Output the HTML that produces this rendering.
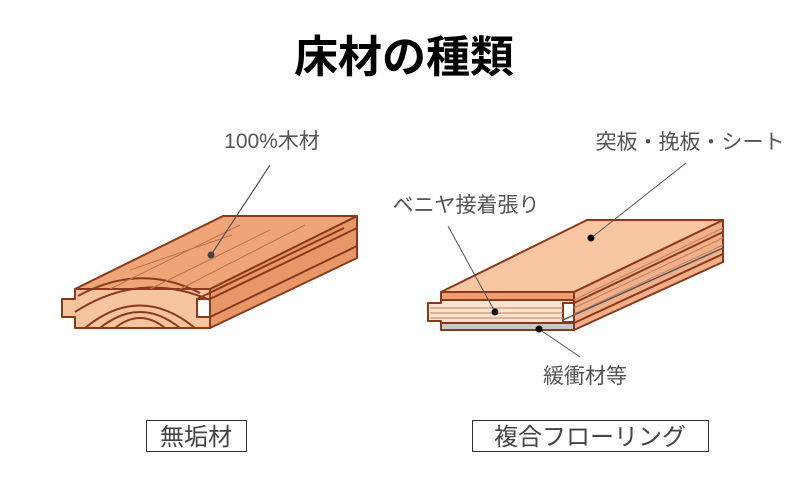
<!DOCTYPE html>
<html><head><meta charset="utf-8"><style>
html,body{margin:0;padding:0;background:#fff;}
body{width:806px;height:492px;overflow:hidden;position:relative;font-family:"Liberation Sans","Noto Sans CJK JP",sans-serif;}
</style></head><body>
<svg width="806" height="492" viewBox="0 0 806 492" xmlns="http://www.w3.org/2000/svg" style="position:absolute;left:0;top:0">
<text x="404" y="72" text-anchor="middle" font-family="Liberation Sans, Noto Sans CJK JP, sans-serif" font-weight="bold" font-size="44" fill="#000">床材の種類</text>

<!-- Left board -->
<g stroke="#8a3a1a" stroke-width="2" stroke-linejoin="round">
<polygon points="210,289 357,216 357,258 210,328" fill="#e89868"/>
<polygon points="75,289 223,216 357,216 210,289" fill="#f0a578"/>
<polygon points="75,289 210,289 210,299 197,299 197,317 210,317 210,328 75,328 75,317 62,317 62,299 75,299" fill="#f7c4a0"/>
</g>
<g stroke="#8a3a1a" stroke-width="2" fill="none">
<line x1="210" y1="299" x2="357" y2="228"/>
<line x1="197" y1="299" x2="344" y2="228"/>
<line x1="210" y1="317" x2="357" y2="246"/>
<path d="M85,328 Q140,283 195,328"/>
<path d="M100,328 Q140,296 180,328"/>
<path d="M115,328 Q140,308 165,328"/>
<path d="M75,312 Q140,270 210,300"/>
<path d="M78,296 Q140,262 200,293"/>
</g>
<g stroke="#c0704a" stroke-width="1" fill="none">
<line x1="110" y1="289" x2="240" y2="225"/>
<line x1="150" y1="289" x2="270" y2="230"/>
<line x1="180" y1="289" x2="305" y2="225"/>
<line x1="130" y1="270" x2="232" y2="235"/>
</g>
<line x1="211" y1="255" x2="270" y2="165" stroke="#555" stroke-width="1.2"/>
<circle cx="211" cy="255" r="3.5" fill="#444"/>
<text x="272" y="148" text-anchor="middle" font-size="21" fill="#555">100%木材</text>

<!-- Right board -->
<g stroke="#8a3a1a" stroke-width="2" stroke-linejoin="round">
<polygon points="574,292 723,220 723,262 574,330" fill="#f2b08a"/>
<polygon points="441,292 587,220 723,220 574,292" fill="#f8c6a2"/>
<rect x="441" y="292" width="133" height="8" fill="#f0a070"/>
<polygon points="441,300 574,300 574,303 563,303 563,322 574,322 574,323 441,323 441,321 428,321 428,303 441,303" fill="#fbe3d0"/>
<rect x="441" y="323" width="133" height="7" fill="#c8c8c8"/>
</g>
<g stroke="#c08060" stroke-width="1" fill="none">
<line x1="430" y1="308" x2="563" y2="308"/><line x1="430" y1="313" x2="563" y2="313"/><line x1="430" y1="318" x2="563" y2="318"/>
<line x1="574" y1="300" x2="723" y2="228"/>
<line x1="574" y1="308" x2="723" y2="238"/>
<line x1="574" y1="314" x2="723" y2="245"/>
</g>
<line x1="574" y1="303" x2="723" y2="232" stroke="#8a3a1a" stroke-width="2"/>
<line x1="563" y1="320" x2="723" y2="248" stroke="#555" stroke-width="1.5"/>
<line x1="574" y1="323" x2="723" y2="254" stroke="#8a3a1a" stroke-width="2"/>
<line x1="591" y1="238" x2="686" y2="163" stroke="#555" stroke-width="1"/>
<circle cx="591" cy="238" r="3.5" fill="#000"/>
<line x1="495" y1="312" x2="448" y2="226" stroke="#555" stroke-width="1"/>
<circle cx="495" cy="312" r="3.5" fill="#000"/>
<line x1="539" y1="329" x2="580" y2="357" stroke="#555" stroke-width="1"/>
<circle cx="539" cy="329" r="3.5" fill="#000"/>
<text x="690" y="149" text-anchor="middle" font-size="21" fill="#555">突板・挽板・シート</text>
<text x="466" y="212" text-anchor="middle" font-size="21" fill="#555">ベニヤ接着張り</text>
<text x="585" y="383" text-anchor="middle" font-size="21" fill="#555">緩衝材等</text>

<rect x="146.5" y="420.5" width="100" height="31" fill="none" stroke="#333" stroke-width="1"/>
<text x="196" y="445" text-anchor="middle" font-size="24" fill="#444">無垢材</text>
<rect x="472.5" y="420.5" width="236" height="31" fill="none" stroke="#333" stroke-width="1"/>
<text x="590" y="445" text-anchor="middle" font-size="24" fill="#444">複合フローリング</text>
</svg>
</body></html>
